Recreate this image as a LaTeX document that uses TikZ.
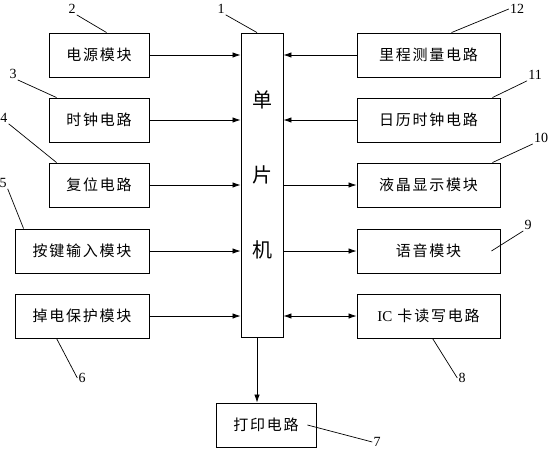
\documentclass[tikz,border=0pt]{standalone}
\usepackage{fontspec}
\usepackage{tikz}
\usetikzlibrary{arrows.meta}
\setmainfont{Liberation Serif}
\newfontfamily\cjk{Noto Sans CJK SC}[LetterSpace=12]
\newfontfamily\cjkbig{Noto Sans CJK SC}

\begin{document}
\begin{tikzpicture}[x=1pt,y=-1pt]
\tikzstyle{every node}+=[inner sep=0pt]
\tikzstyle{blk}=[draw=black,line width=0.9pt,minimum height=44pt,font=\cjk\fontsize{15}{18}\selectfont]
\tikzstyle{num}=[font=\fontsize{14}{16}\selectfont,inner sep=1pt]
\tikzstyle{arr}=[line width=0.8pt,-{Latex[length=8pt,width=5.5pt]}]
\tikzstyle{lead}=[line width=0.7pt]
\useasboundingbox (0,0) rectangle (551,450);
\node [draw=black,line width=0.9pt,minimum width=42pt,minimum height=304pt] (mcu) at (262,185) {};
\foreach \c/\y in {单/100,片/175,机/250}
  \node [font=\cjkbig\fontsize{20}{24}\selectfont] (mcu\y) at (262,\y) {\c};
\node [blk,minimum width=100pt] (power) at (99,55) {电源模块};
\node [blk,minimum width=100pt] (clock) at (99,120) {时钟电路};
\node [blk,minimum width=100pt] (reset) at (99,185) {复位电路};
\node [blk,minimum width=134pt] (key) at (82,251) {按键输入模块};
\node [blk,minimum width=134pt] (pdown) at (82,316) {掉电保护模块};
\node [blk,minimum width=143pt] (mile) at (428.5,55) {里程测量电路};
\node [blk,minimum width=143pt] (cal) at (428.5,120) {日历时钟电路};
\node [blk,minimum width=143pt] (lcd) at (428.5,185) {液晶显示模块};
\node [blk,minimum width=143pt] (voice) at (428.5,251) {语音模块};
\node [blk,minimum width=143pt] (ic) at (428.5,316) {{\rmfamily IC} 卡读写电路};
\node [blk,minimum width=100pt] (print) at (266,425) {打印电路};
\foreach \b in {power,clock,reset,key,pdown}
  \draw [arr] (\b.east) -- (\b.east -| mcu.west);
\foreach \b in {mile,cal}
  \draw [arr] (\b.west) -- (\b.west -| mcu.east);
\foreach \b in {lcd,voice}
  \draw [arr] (\b.west -| mcu.east) -- (\b.west);
\draw [line width=0.8pt,{Latex[length=8pt,width=5.5pt]}-{Latex[length=8pt,width=5.5pt]}] (ic.west -| mcu.east) -- (ic.west);
\draw [arr] ([xshift=-5pt]mcu.south) -- ([xshift=-5pt]mcu.south |- print.north);
\node [num] (n1) at (221,9) {1};
\node [num] (n2) at (72,9) {2};
\node [num] (n3) at (13,74) {3};
\node [num] (n4) at (4,118) {4};
\node [num] (n5) at (3,183) {5};
\node [num] (n6) at (82,378) {6};
\node [num] (n7) at (377,442) {7};
\node [num] (n8) at (462,378) {8};
\node [num] (n9) at (528,225) {9};
\node [num] (n10) at (541,138) {10};
\node [num] (n11) at (535,75) {11};
\node [num] (n12) at (517,9) {12};
\draw [lead] ([xshift=-5pt]mcu.north) -- (n1.south east);
\draw [lead] ([xshift=58pt]power.north west) -- (n2.south east);
\draw [lead] ([xshift=8pt]clock.north west) -- (n3.south east);
\draw [lead] ([xshift=8pt]reset.north west) -- (n4.south east);
\draw [lead] ([xshift=9pt]key.north west) -- (n5.south east);
\draw [lead] ([xshift=42pt]pdown.south west) -- (n6.west);
\draw [lead] ([xshift=-9pt]print.east) -- (n7.west);
\draw [lead] ([xshift=76pt]ic.south west) -- (n8.west);
\draw [lead] ([xshift=-9pt]voice.east) -- (n9.south west);
\draw [lead] ([xshift=-8pt]lcd.north east) -- (n10.south west);
\draw [lead] ([xshift=-8pt]cal.north east) -- (n11.south west);
\draw [lead] ([xshift=95pt]mile.north west) -- (n12.west);
\end{tikzpicture}
\end{document}
